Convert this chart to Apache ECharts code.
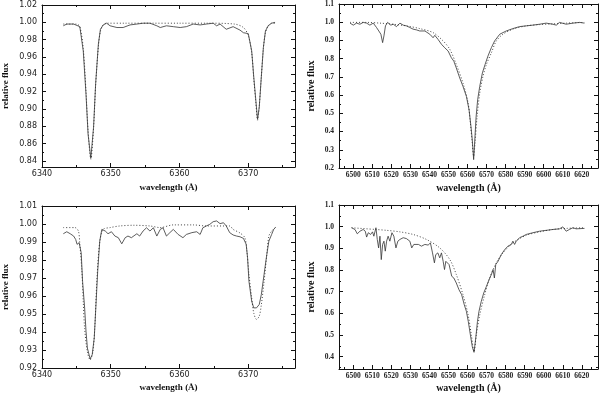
<!DOCTYPE html>
<html>
<head>
<meta charset="utf-8">
<script src="https://cdn.jsdelivr.net/npm/echarts@6/dist/echarts.min.js"></script>
<style>
html, body { margin: 0; padding: 0; background: #fff; }
#chart { width: 600px; height: 395px; }
</style>
</head>
<body>
<div id="chart"></div>
<script>
// top left: Si II 6347 / 6371, star 1
var waveA = [6343.1, 6343.6, 6344.6, 6345.5, 6346.0, 6346.4, 6346.7, 6347.1, 6347.5, 6347.8, 6348.2, 6348.5, 6348.9, 6349.4, 6349.9, 6350.9, 6351.8, 6352.8, 6353.8, 6354.7, 6355.7, 6356.7, 6357.2, 6358.1, 6359.1, 6360.1, 6361.0, 6362.0, 6363.0, 6363.9, 6364.9, 6365.4, 6365.9, 6366.8, 6367.8, 6368.8, 6369.3, 6370.0, 6370.5, 6370.8, 6371.1, 6371.35, 6371.6, 6371.9, 6372.2, 6372.5, 6372.9, 6373.4, 6373.9];
var obsA = [0.996, 0.998, 0.998, 0.995, 0.967, 0.917, 0.871, 0.843, 0.879, 0.929, 0.975, 0.992, 0.997, 0.999, 0.996, 0.994, 0.994, 0.997, 0.998, 0.999, 0.999, 0.996, 0.994, 0.996, 0.995, 0.994, 0.995, 0.998, 0.997, 0.998, 0.999, 0.996, 0.998, 0.992, 0.995, 0.991, 0.988, 0.987, 0.967, 0.937, 0.910, 0.888, 0.902, 0.937, 0.971, 0.990, 0.996, 0.999, 1.000];
var modWaveA = [6343.1, 6345.0, 6345.5, 6346.0, 6346.4, 6346.7, 6347.1, 6347.5, 6347.8, 6348.2, 6348.5, 6348.9, 6349.4, 6352, 6356, 6360, 6364, 6368, 6369.3, 6370.0, 6370.5, 6370.8, 6371.1, 6371.35, 6371.6, 6371.9, 6372.2, 6372.5, 6372.9, 6373.4, 6373.9];
var modA = [0.998, 0.998, 0.995, 0.970, 0.920, 0.875, 0.842, 0.878, 0.927, 0.972, 0.990, 0.997, 0.999, 0.999, 0.999, 0.999, 0.999, 0.998, 0.994, 0.985, 0.965, 0.935, 0.908, 0.887, 0.903, 0.937, 0.970, 0.988, 0.996, 0.999, 0.999];

// top right: H alpha, star 1
var waveB = [6498.3, 6500.0, 6501.7, 6503.5, 6505.2, 6507.0, 6508.7, 6510.5, 6512.2, 6513.4, 6514.5, 6515.4, 6516.1, 6516.9, 6518.0, 6518.9, 6519.7, 6521.0, 6522.7, 6524.5, 6526.2, 6527.9, 6529.7, 6531.4, 6533.2, 6534.9, 6537.6, 6540.2, 6541.9, 6542.8, 6544.5, 6546.3, 6548.0, 6549.8, 6551.5, 6552.8, 6554.1, 6555.9, 6557.6, 6559.4, 6560.8, 6561.8, 6562.5, 6563.2, 6563.8, 6564.5, 6565.3, 6566.4, 6567.8, 6569.2, 6570.7, 6572.5, 6574.2, 6576.9, 6580.3, 6583.8, 6587.3, 6590.8, 6594.3, 6597.8, 6601.3, 6604.8, 6606.6, 6608.3, 6611.8, 6615.3, 6618.8, 6621.4];
var obsB = [0.995, 0.984, 0.995, 0.989, 0.999, 0.995, 0.984, 0.995, 0.971, 0.952, 0.934, 0.888, 0.925, 0.980, 0.999, 1.008, 0.984, 0.989, 0.976, 0.995, 0.984, 0.980, 0.971, 0.962, 0.958, 0.952, 0.952, 0.934, 0.915, 0.928, 0.906, 0.879, 0.860, 0.842, 0.805, 0.786, 0.749, 0.694, 0.648, 0.593, 0.519, 0.427, 0.353, 0.246, 0.353, 0.482, 0.574, 0.648, 0.722, 0.768, 0.814, 0.860, 0.897, 0.934, 0.952, 0.965, 0.976, 0.980, 0.984, 0.989, 0.995, 0.989, 0.984, 0.999, 0.989, 0.995, 0.999, 0.995];
var modWaveB = [6498.3, 6507.0, 6514.0, 6521.0, 6527.9, 6534.9, 6541.9, 6547.2, 6550.7, 6554.1, 6557.6, 6560.3, 6561.5, 6562.5, 6563.2, 6563.9, 6565.0, 6566.4, 6568.1, 6569.9, 6572.5, 6575.1, 6578.6, 6583.8, 6590.8, 6597.8, 6604.8, 6611.8, 6621.4];
var modB = [0.999, 0.999, 0.995, 0.989, 0.980, 0.965, 0.943, 0.897, 0.851, 0.768, 0.666, 0.556, 0.445, 0.334, 0.265, 0.334, 0.482, 0.611, 0.703, 0.768, 0.832, 0.897, 0.934, 0.962, 0.980, 0.987, 0.991, 0.995, 0.999];

// bottom left: Si II 6347 / 6371, star 2
var waveC = [6343.1, 6343.6, 6344.1, 6344.6, 6344.9, 6345.1, 6345.4, 6345.7, 6345.9, 6346.2, 6346.4, 6346.6, 6347.0, 6347.3, 6347.6, 6347.8, 6348.1, 6348.4, 6348.7, 6349.2, 6349.6, 6350.1, 6350.6, 6351.1, 6351.6, 6352.1, 6352.5, 6353.0, 6353.8, 6354.2, 6354.7, 6355.2, 6355.7, 6356.2, 6356.7, 6357.2, 6357.6, 6358.1, 6358.6, 6359.1, 6359.8, 6360.5, 6361.0, 6361.8, 6362.5, 6363.0, 6363.4, 6363.9, 6364.4, 6364.9, 6365.4, 6365.9, 6366.4, 6366.8, 6367.3, 6367.8, 6368.3, 6368.8, 6369.3, 6369.7, 6369.9, 6370.1, 6370.5, 6370.8, 6371.2, 6371.6, 6371.9, 6372.3, 6372.7, 6373.0, 6373.4, 6373.7, 6374.0];
var obsC = [0.9946, 0.9957, 0.9946, 0.9933, 0.9914, 0.9887, 0.9896, 0.9840, 0.9682, 0.9534, 0.9404, 0.9311, 0.9250, 0.9274, 0.9367, 0.9515, 0.9738, 0.9905, 0.9970, 0.9961, 0.9946, 0.9957, 0.9933, 0.9924, 0.9890, 0.9924, 0.9933, 0.9924, 0.9946, 0.9933, 0.9961, 0.9979, 0.9961, 0.9979, 0.9933, 0.9970, 0.9979, 0.9933, 0.9952, 0.9970, 0.9942, 0.9924, 0.9942, 0.9952, 0.9957, 0.9942, 0.9979, 0.9989, 0.9998, 1.0013, 1.0017, 1.0002, 1.0007, 0.9989, 0.9952, 0.9939, 0.9933, 0.9929, 0.9920, 0.9887, 0.9812, 0.9682, 0.9571, 0.9534, 0.9534, 0.9553, 0.9608, 0.9720, 0.9831, 0.9905, 0.9942, 0.9970, 0.9983];
var modWaveC = [6343.1, 6344.8, 6345.3, 6345.5, 6345.8, 6346.0, 6346.2, 6346.6, 6347.0, 6347.4, 6347.7, 6348.0, 6348.4, 6348.9, 6349.9, 6351.3, 6353.3, 6355.7, 6357.2, 6359.1, 6362.0, 6363.9, 6367.3, 6367.8, 6368.8, 6369.5, 6369.8, 6370.1, 6370.5, 6370.8, 6371.2, 6371.6, 6371.9, 6372.3, 6372.7, 6373.0, 6373.4, 6373.9];
var modC = [0.998, 0.998, 0.996, 0.989, 0.974, 0.957, 0.942, 0.929, 0.9245, 0.929, 0.944, 0.970, 0.990, 0.997, 0.998, 0.9989, 0.9993, 0.9989, 0.998, 0.9995, 0.9995, 0.9989, 0.9989, 0.997, 0.995, 0.9924, 0.985, 0.972, 0.959, 0.9506, 0.947, 0.9488, 0.955, 0.968, 0.983, 0.9933, 0.996, 0.998];

// bottom right: H alpha, star 2
var waveD = [6499.1, 6500.9, 6502.1, 6503.5, 6505.2, 6506.3, 6507.0, 6507.9, 6509.1, 6510.1, 6510.8, 6511.9, 6512.6, 6513.3, 6514.0, 6514.7, 6515.4, 6516.1, 6516.8, 6517.5, 6518.3, 6519.2, 6520.3, 6521.3, 6522.4, 6523.4, 6524.5, 6526.2, 6527.9, 6529.7, 6530.7, 6531.8, 6532.8, 6534.2, 6535.8, 6537.6, 6539.3, 6540.5, 6541.6, 6542.6, 6543.3, 6544.4, 6545.4, 6546.3, 6547.2, 6547.9, 6548.6, 6549.4, 6550.3, 6551.0, 6551.7, 6552.8, 6554.1, 6555.5, 6556.9, 6558.3, 6559.4, 6560.4, 6561.5, 6562.5, 6563.4, 6564.3, 6565.2, 6566.0, 6567.2, 6568.5, 6569.9, 6571.3, 6572.5, 6573.4, 6574.1, 6574.8, 6576.0, 6577.7, 6579.5, 6581.2, 6583.0, 6583.8, 6584.7, 6585.6, 6587.3, 6589.1, 6590.8, 6594.3, 6597.8, 6601.3, 6604.8, 6608.3, 6610.0, 6611.8, 6613.5, 6615.3, 6617.0, 6621.4];
var obsD = [0.995, 0.987, 0.967, 0.979, 0.987, 0.979, 0.952, 0.972, 0.964, 0.976, 0.956, 0.995, 0.941, 0.902, 0.956, 0.848, 0.918, 0.933, 0.887, 0.933, 0.956, 0.933, 0.972, 0.956, 0.902, 0.933, 0.941, 0.949, 0.945, 0.933, 0.902, 0.918, 0.910, 0.918, 0.910, 0.918, 0.915, 0.925, 0.879, 0.833, 0.871, 0.879, 0.856, 0.879, 0.840, 0.802, 0.840, 0.848, 0.825, 0.833, 0.771, 0.763, 0.740, 0.709, 0.686, 0.639, 0.609, 0.562, 0.500, 0.446, 0.420, 0.485, 0.562, 0.609, 0.655, 0.694, 0.724, 0.755, 0.779, 0.802, 0.763, 0.825, 0.840, 0.871, 0.894, 0.910, 0.918, 0.933, 0.918, 0.933, 0.949, 0.956, 0.964, 0.972, 0.979, 0.983, 0.987, 0.990, 0.999, 0.979, 0.987, 0.995, 0.990, 0.992];
var modWaveD = [6499.1, 6511.9, 6517.5, 6524.5, 6531.4, 6538.4, 6545.4, 6550.7, 6554.1, 6557.6, 6560.3, 6562.0, 6563.4, 6564.6, 6566.4, 6569.0, 6571.6, 6575.1, 6578.6, 6583.8, 6590.8, 6597.8, 6604.8, 6611.8, 6621.4];
var modD = [0.995, 0.987, 0.983, 0.976, 0.964, 0.941, 0.902, 0.848, 0.779, 0.686, 0.593, 0.500, 0.423, 0.500, 0.593, 0.686, 0.763, 0.833, 0.879, 0.925, 0.960, 0.976, 0.987, 0.992, 0.995];

// tick values
var siTicks = [6340, 6350, 6360, 6370];
var siMinor = [6345, 6355, 6365, 6375];
var haTicks = [6500, 6510, 6520, 6530, 6540, 6550, 6560, 6570, 6580, 6590, 6600, 6610, 6620];
var haMinor = [6495, 6505, 6515, 6525, 6535, 6545, 6555, 6565, 6575, 6585, 6595, 6605, 6615, 6625];
var fluxTicksA = [0.84, 0.86, 0.88, 0.90, 0.92, 0.94, 0.96, 0.98, 1.00, 1.02];
var fluxMinorA = [0.85, 0.87, 0.89, 0.91, 0.93, 0.95, 0.97, 0.99, 1.01];
var fluxTicksB = [0.2, 0.3, 0.4, 0.5, 0.6, 0.7, 0.8, 0.9, 1.0, 1.1];
var fluxMinorB = [0.25, 0.35, 0.45, 0.55, 0.65, 0.75, 0.85, 0.95, 1.05];
var fluxTicksC = [0.92, 0.93, 0.94, 0.95, 0.96, 0.97, 0.98, 0.99, 1.00, 1.01];
var fluxMinorC = [0.925, 0.935, 0.945, 0.955, 0.965, 0.975, 0.985, 0.995, 1.005];
var fluxTicksD = [0.4, 0.5, 0.6, 0.7, 0.8, 0.9, 1.0, 1.1];
var fluxMinorD = [0.35, 0.45, 0.55, 0.65, 0.75, 0.85, 0.95, 1.05];

function zip(xs, ys) {
    return xs.map(function (x, i) { return [x, ys[i]]; });
}

var sansLabel = { fontFamily: 'DejaVu Sans', fontSize: 8, color: '#222' };
var serifLabel = { fontFamily: 'Liberation Serif', fontSize: 7.5, fontWeight: 'bold', color: '#222' };

// main axis + mirror + minor ticks on both sides
function makeAxes(dim, g, min, max, major, minor, lab, digits, name, nameFont, nameGap) {
    var isX = dim === 'x';
    var pos = isX ? ['bottom', 'top'] : ['left', 'right'];
    var list = [];
    [0, 1].forEach(function (side) {
        list.push({
            type: 'value', gridIndex: g, min: min, max: max, position: pos[side],
            axisLine: { show: true, onZero: false, lineStyle: { color: '#111', width: 1 } },
            axisTick: { show: true, inside: true, length: 4, customValues: major, lineStyle: { color: '#111' } },
            axisLabel: side === 0 ? Object.assign({
                show: true, customValues: major, margin: isX ? 3 : 5,
                formatter: function (v) { return v.toFixed(digits); }
            }, lab) : { show: false },
            splitLine: { show: false },
            name: side === 0 ? name : '',
            nameLocation: 'middle',
            nameGap: nameGap,
            nameRotate: isX ? 0 : 90,
            nameTextStyle: nameFont
        });
    });
    [0, 1].forEach(function (side) {
        list.push({
            type: 'value', gridIndex: g, min: min, max: max, position: pos[side],
            axisLine: { show: false, onZero: false },
            axisTick: { show: true, inside: true, length: 2, customValues: minor, lineStyle: { color: '#111' } },
            axisLabel: { show: false },
            splitLine: { show: false }
        });
    });
    return list;
}

var smallName = { fontFamily: 'Liberation Serif', fontSize: 9, fontWeight: 'bold', color: '#111' };
var bigName = { fontFamily: 'Liberation Serif', fontSize: 10, fontWeight: 'bold', color: '#111' };

var xAxes = [].concat(
    makeAxes('x', 0, 6340, 6376.8, siTicks, siMinor, sansLabel, 0, 'wavelength (Å)', smallName, 16),
    makeAxes('x', 1, 6492.5, 6628.5, haTicks, haMinor, serifLabel, 0, 'wavelength (Å)', bigName, 15),
    makeAxes('x', 2, 6340, 6376.8, siTicks, siMinor, sansLabel, 0, 'wavelength (Å)', smallName, 15),
    makeAxes('x', 3, 6492.5, 6628.5, haTicks, haMinor, serifLabel, 0, 'wavelength (Å)', bigName, 14)
);
var yAxes = [].concat(
    makeAxes('y', 0, 0.833, 1.02, fluxTicksA, fluxMinorA, sansLabel, 2, 'relative flux', smallName, 32),
    makeAxes('y', 1, 0.2, 1.1, fluxTicksB, fluxMinorB, serifLabel, 1, 'relative flux', bigName, 23),
    makeAxes('y', 2, 0.92, 1.01, fluxTicksC, fluxMinorC, sansLabel, 2, 'relative flux', smallName, 32),
    makeAxes('y', 3, 0.343, 1.1, fluxTicksD, fluxMinorD, serifLabel, 1, 'relative flux', bigName, 23)
);

function obsLine(g, data) {
    return {
        type: 'line', xAxisIndex: 4 * g, yAxisIndex: 4 * g, data: data,
        showSymbol: false, animation: false, z: 3,
        lineStyle: { color: '#333', width: 0.8 }
    };
}
function modLine(g, data) {
    return {
        type: 'line', xAxisIndex: 4 * g, yAxisIndex: 4 * g, data: data,
        showSymbol: false, animation: false, z: 2, smooth: 0.3,
        lineStyle: { color: '#444', width: 1, type: [1, 2] }
    };
}

var chart = echarts.init(document.getElementById('chart'));
chart.setOption({
    backgroundColor: '#fff',
    animation: false,
    grid: [
        { left: 42, top: 5, width: 253, height: 162, outerBoundsMode: 'none' },
        { left: 339, top: 4, width: 259, height: 164, outerBoundsMode: 'none' },
        { left: 42, top: 206, width: 253, height: 162, outerBoundsMode: 'none' },
        { left: 339, top: 205, width: 259, height: 164, outerBoundsMode: 'none' }
    ],
    xAxis: xAxes,
    yAxis: yAxes,
    series: [
        modLine(0, zip(modWaveA, modA)),
        obsLine(0, zip(waveA, obsA)),
        modLine(1, zip(modWaveB, modB)),
        obsLine(1, zip(waveB, obsB)),
        modLine(2, zip(modWaveC, modC)),
        obsLine(2, zip(waveC, obsC)),
        modLine(3, zip(modWaveD, modD)),
        obsLine(3, zip(waveD, obsD))
    ]
});
</script>
</body>
</html>
